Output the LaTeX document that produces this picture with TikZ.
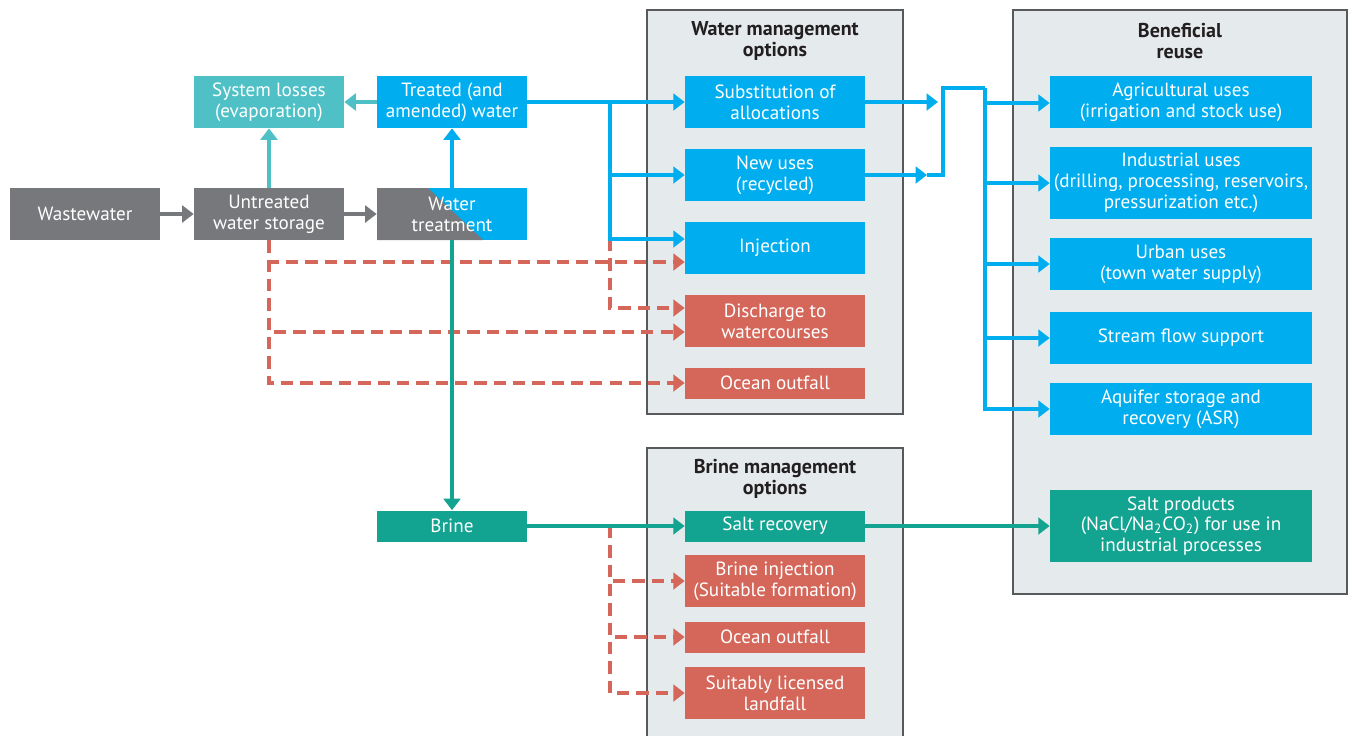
\documentclass[tikz,border=0pt]{standalone}
\usepackage{fontspec}
\setmainfont{PT Sans}
\usetikzlibrary{arrows.meta,positioning,calc}
\definecolor{WasteGrey}{HTML}{77787B}
\definecolor{CleanBlue}{HTML}{00AEEF}
\definecolor{LossTeal}{HTML}{4FC1C6}
\definecolor{BrineGreen}{HTML}{13A391}
\definecolor{DumpRed}{HTML}{D4675A}
\definecolor{PanelGrey}{HTML}{E5EAEC}
\definecolor{PanelEdge}{HTML}{58595B}
\definecolor{TitleInk}{HTML}{231F20}

\begin{document}
\begin{tikzpicture}[x=0.02cm,y=-0.02cm,
      font=\fontsize{10.9}{11.9}\selectfont,
      box/.style={minimum width=3cm,minimum height=1.04cm,inner sep=0pt,align=center,text=white},
      opt/.style={box,minimum width=3.6cm},
      use/.style={box,minimum width=5.24cm},
      panel/.style={draw=PanelEdge,line width=0.9pt,fill=PanelGrey,inner sep=0pt},
      title/.style={font=\fontsize{11.4}{11.9}\selectfont\bfseries,text=TitleInk,align=center},
      garrow/.style={-{Triangle[length=6.5pt,width=9.5pt]},line width=2.2pt,WasteGrey},
      tarrow/.style={-{Triangle[length=6.5pt,width=9.5pt]},line width=2pt,LossTeal},
      bline/.style={line width=2pt,CleanBlue},
      barrow/.style={bline,-{Triangle[length=6.5pt,width=9.5pt]}},
      sarrow/.style={-{Triangle[length=6.5pt,width=9.5pt]},line width=2pt,BrineGreen},
      rarrow/.style={-{Triangle[length=6.5pt,width=9.5pt]},line width=2.2pt,DumpRed,dash pattern=on 7pt off 4pt}
    ]
      \useasboundingbox (0,0) rectangle (1352,735);

      \node[panel,minimum width=5.12cm,minimum height=8.08cm] (wpanel) at (775,212) {};
      \node[panel,minimum width=5.12cm,minimum height=5.94cm] (bpanel) at (775,596.5) {};
      \node[panel,minimum width=6.68cm,minimum height=11.68cm] (rpanel) at (1180,302) {};
      \node[title] (wtitle) at (775,41) {Water management\\options};
      \node[title] (btitle) at (775,479) {Brine management\\options};
      \node[title] (rtitle) at (1180,41) {Beneficial\\reuse};

      \node[box,fill=WasteGrey] (waste) at (85,214) {Wastewater};
      \node[box,fill=WasteGrey] (store) at (269,214) {Untreated\\water storage};
      \node[box,fill=CleanBlue,path picture={
          \fill[WasteGrey] (path picture bounding box.north west) -- ++(51,0)
            -- ($(path picture bounding box.south west)+(106,0)$)
            -- (path picture bounding box.south west) -- cycle;
          \node[align=center,text=white] at (path picture bounding box.center) {Water\\treatment};}]
        (treat) at (452,214) {};
      \node[box,fill=LossTeal] (loss) at (269,102) {System losses\\(evaporation)};
      \node[box,fill=CleanBlue] (treated) at (452,102) {Treated (and\\amended) water};
      \node[box,fill=BrineGreen,minimum height=0.62cm] (brine) at (452,526) {Brine};

      \node[opt,fill=CleanBlue] (subst) at (775,102) {Substitution of\\allocations};
      \node[opt,fill=CleanBlue] (newuse) at (775,175) {New uses\\(recycled)};
      \node[opt,fill=CleanBlue] (inject) at (775,248) {Injection};
      \node[opt,fill=DumpRed] (discharge) at (775,321) {Discharge to\\watercourses};
      \node[opt,fill=DumpRed,minimum height=0.62cm] (ocean) at (775,383) {Ocean outfall};

      \node[opt,fill=BrineGreen,minimum height=0.62cm] (saltrec) at (775,526) {Salt recovery};
      \node[opt,fill=DumpRed] (brineinj) at (775,581) {Brine injection\\(Suitable formation)};
      \node[opt,fill=DumpRed,minimum height=0.62cm] (brineocean) at (775,637) {Ocean outfall};
      \node[opt,fill=DumpRed] (landfall) at (775,693) {Suitably licensed\\landfall};

      \node[use,fill=CleanBlue] (agri) at (1181,102) {Agricultural uses\\(irrigation and stock use)};
      \node[use,fill=CleanBlue,minimum height=1.44cm] (indus) at (1181,183) {Industrial uses\\(drilling, processing, reservoirs,\\pressurization etc.)};
      \node[use,fill=CleanBlue] (urban) at (1181,264) {Urban uses\\(town water supply)};
      \node[use,fill=CleanBlue] (stream) at (1181,338) {Stream flow support};
      \node[use,fill=CleanBlue] (asr) at (1181,409) {Aquifer storage and\\recovery (ASR)};
      \node[use,fill=BrineGreen,minimum height=1.44cm] (saltprod) at (1181,526) {Salt products\\(NaCl/Na\textsubscript{2}CO\textsubscript{2}) for use in\\industrial processes};

      \coordinate (wsplit) at (610,102);
      \coordinate (rsplit) at (610,239);
      \coordinate (bsplit) at (610,526);
      \coordinate (subtip) at (938,102);
      \coordinate (newtip) at (927,175);
      \coordinate (rise) at (943,175);
      \coordinate (bus) at (985,88);

      \draw[rarrow] (store.south) |- ($(inject.west)+(0,14)$);
      \draw[rarrow] (store.south) |- ($(discharge.west)+(0,11)$);
      \draw[rarrow] (store.south) |- (ocean);
      \draw[rarrow] (rsplit) |- ($(discharge.west)+(0,-13)$);
      \draw[rarrow] (bsplit) |- (brineinj);
      \draw[rarrow] (bsplit) |- (brineocean);
      \draw[rarrow] (bsplit) |- (landfall);

      \draw[garrow] (waste) -- (store);
      \draw[garrow] (store) -- (treat);
      \draw[tarrow] (store) -- (loss);
      \draw[tarrow] (treated) -- (loss);
      \draw[barrow] (treat) -- (treated);
      \draw[sarrow] (treat) -- (brine);
      \draw[sarrow] (brine) -- (saltrec);
      \draw[sarrow] (saltrec) -- (saltprod);

      \draw[barrow] (treated) -- (subst);
      \draw[barrow] (wsplit) |- (newuse);
      \draw[barrow] (wsplit) |- ($(inject.west)+(0,-9)$);
      \draw[barrow] (subst) -- (subtip);
      \draw[barrow] (newuse) -- (newtip);
      \draw[bline] (newtip) -- (rise) |- (bus);
      \draw[barrow] (bus) |- ($(agri.west)+(0,1)$);
      \draw[barrow] (bus) |- (indus);
      \draw[barrow] (bus) |- (urban);
      \draw[barrow] (bus) |- (stream);
      \draw[barrow] (bus) |- (asr);
    \end{tikzpicture}
\end{document}
